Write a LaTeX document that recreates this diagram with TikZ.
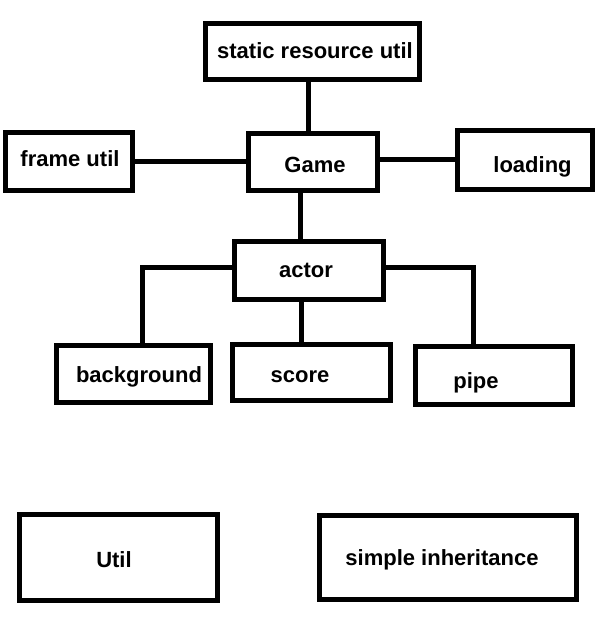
\documentclass[tikz,border=0pt]{standalone}
\usepackage{fontspec}
\setmainfont{Liberation Sans}
\usetikzlibrary{positioning}

\begin{document}
\begin{tikzpicture}[x=1pt, y=-1pt, line width=5pt,
  font=\fontsize{22}{26}\selectfont\bfseries,
  box/.style={draw, rectangle, inner sep=0pt},
  lbl/.style={anchor=base, inner sep=0pt}]
  \useasboundingbox (0,0) rectangle (614,636);
  % boxes
  \node[box, minimum width=214pt, minimum height=56pt] (static) at (312.5,51.5) {};
  \node[box, minimum width=127pt, minimum height=58pt] (frame) at (69,161.5) {};
  \node[box, minimum width=129pt, minimum height=57pt] (game) at (313,162) {};
  \node[box, minimum width=135pt, minimum height=59pt] (loading) at (525,160) {};
  \node[box, minimum width=149pt, minimum height=58pt] (actor) at (309,270.5) {};
  \node[box, minimum width=154pt, minimum height=57pt] (bg) at (133.5,374) {};
  \node[box, minimum width=158pt, minimum height=56pt] (score) at (311.5,372.5) {};
  \node[box, minimum width=157pt, minimum height=58pt] (pipe) at (494,375.5) {};
  \node[box, minimum width=198pt, minimum height=86pt] (util) at (118.5,557.5) {};
  \node[box, minimum width=257pt, minimum height=84pt] (simple) at (448,557.5) {};
  % texts
  \node[lbl] (staticL) at (315,59) {static resource util};
  \node[lbl] (frameL) at (70,167) {frame util};
  \node[lbl] (gameL) at (315,173) {Game};
  \node[lbl] (loadingL) at (532.5,173) {loading};
  \node[lbl] (actorL) at (306,277) {actor};
  \node[lbl] (bgL) at (139,382) {background};
  \node[lbl] (scoreL) at (300,382) {score};
  \node[lbl] (pipeL) at (476,388) {pipe};
  \node[lbl] (utilL) at (114,567) {Util};
  \node[lbl] (simpleL) at (442,565) {simple inheritance};
  % links
  \draw (static.south -| 308,0) -- (game.north -| 308,0);
  \draw (frame.east |- 0,161.5) -- (game.west |- 0,161.5);
  \draw (game.east |- 0,160) -- (loading.west |- 0,160);
  \draw (game.south -| 300,0) -- (actor.north -| 300,0);
  \draw (actor.south -| 301,0) -- (score.north -| 301,0);
  \draw (actor.west |- 0,267) -| (bg.north -| 142.5,0);
  \draw (actor.east |- 0,267) -| (pipe.north -| 473,0);
\end{tikzpicture}
\end{document}
